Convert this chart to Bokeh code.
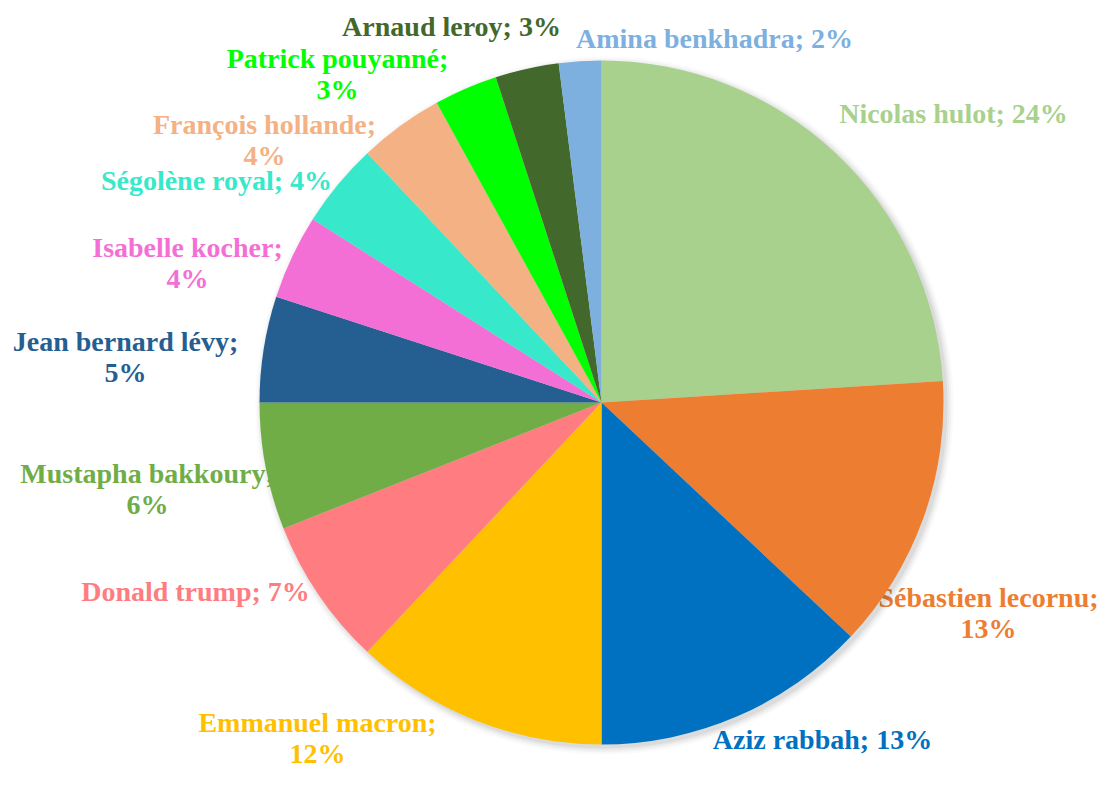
import numpy as np
import pandas as pd
from bokeh.plotting import figure
from bokeh.models import Range1d, ColumnDataSource
from bokeh.core.properties import value
from bokeh.embed import file_html
from bokeh.resources import INLINE

# ---- data ----
names = ["Nicolas hulot", "Sébastien lecornu", "Aziz rabbah", "Emmanuel macron",
         "Donald trump", "Mustapha bakkoury", "Jean bernard lévy", "Isabelle kocher",
         "Ségolène royal", "François hollande", "Patrick pouyanné", "Arnaud leroy",
         "Amina benkhadra"]
shares = [24, 13, 13, 12, 7, 6, 5, 4, 4, 4, 3, 3, 2]
colors = ["#A9D18E", "#ED7D31", "#0070C0", "#FFC000", "#FF7C80", "#70AD47",
          "#255E91", "#F46FD5", "#37E9CA", "#F4B183", "#00FF00", "#43682B", "#7DB0DF"]

# ---- layout (label anchors in picture pixels, line breaks) ----
W, H = 1102, 771
label_xy = [(953, 113), (988, 612), (822, 739), (317, 737), (195, 591), (147, 488),
            (125, 356), (187, 262), (216, 180), (264, 139), (337, 73), (451, 26), (714, 38)]
two_line = [False, True, False, True, False, True, True, True, False, True, True, False, False]
cx_pg, cy_pg, R = 601, 402, 342

df = pd.DataFrame({"name": names, "share": shares, "color": colors})
frac = df["share"] / df["share"].sum()
cum = frac.cumsum()
df["start"] = np.pi / 2 - (cum - frac) * 2 * np.pi
df["end"] = np.pi / 2 - cum * 2 * np.pi
sep = ["\n" if t else " " for t in two_line]
df["label"] = [f"{n};{s}{v}%" for n, s, v in zip(names, sep, shares)]
df["lx"] = [x for x, _ in label_xy]
df["ly"] = [H - y for _, y in label_xy]
src = ColumnDataSource(df)

p = figure(width=W, height=H, x_range=Range1d(0, W), y_range=Range1d(0, H),
           output_backend="svg", toolbar_location=None, min_border=0,
           background_fill_color="white", border_fill_color="white")
p.axis.visible = False
p.grid.visible = False
p.outline_line_color = None

cx, cy = cx_pg, H - cy_pg

# labels (drawn first, pie covers overlaps as in the original)
p.text(x="lx", y="ly", text="label", source=src, text_color="color",
       text_font=value("Liberation Serif"), text_font_style="bold",
       text_font_size="28px", text_align="center", text_baseline="middle",
       text_line_height=1.0)

# soft shadow
for k, a in enumerate([0.05, 0.04, 0.03, 0.02]):
    p.circle(x=[cx + 3], y=[cy - 3], radius=R + 1 + 2 * k, fill_color="black",
             fill_alpha=a, line_color=None)

p.wedge(x=cx, y=cy, radius=R, start_angle="start", end_angle="end",
        direction="clock", fill_color="color", line_color=None, source=src)

open("out.html", "w").write(file_html(p, INLINE))
